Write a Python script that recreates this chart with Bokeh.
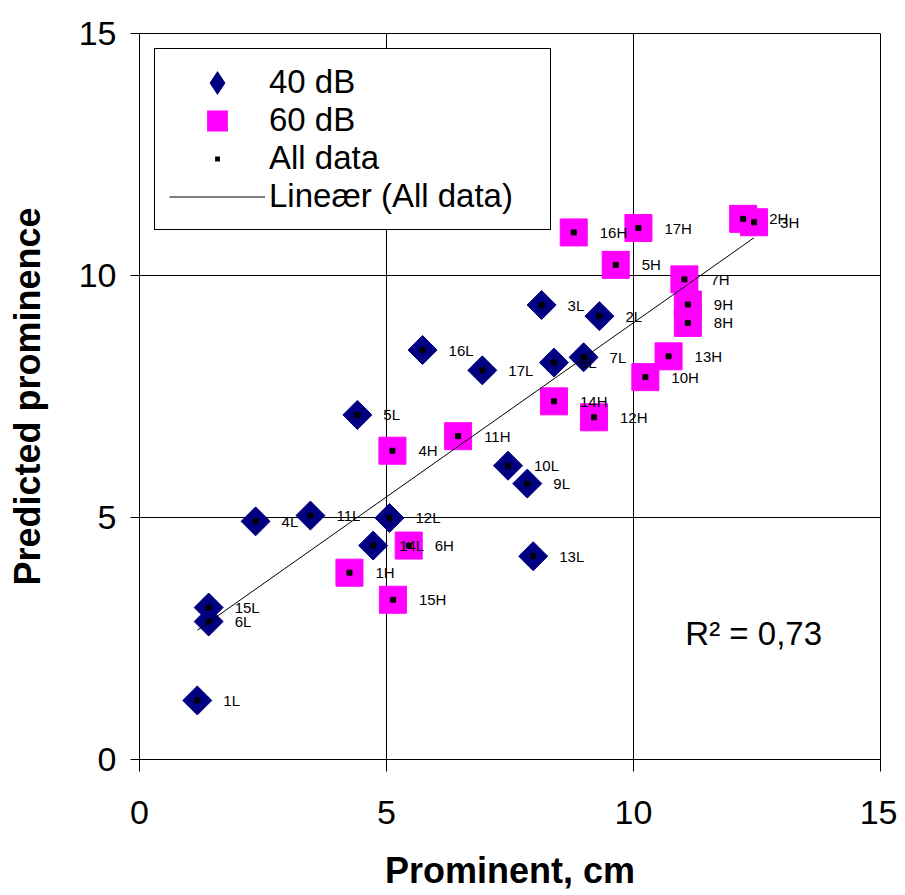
import numpy as np
from bokeh.plotting import figure
from bokeh.models import (ColumnDataSource, Legend, LegendItem, Label,
                          FixedTicker, Range1d)
from bokeh.core.properties import value
from bokeh.embed import file_html
from bokeh.resources import INLINE

# ---- data ----
labels_40 = ["1L", "2L", "3L", "4L", "5L", "6L", "7L", "8L", "9L", "10L",
             "11L", "12L", "13L", "14L", "15L", "16L", "17L"]
x_40 = [1.17, 9.31, 8.14, 2.35, 4.41, 1.40, 8.99, 8.39, 7.85, 7.46,
        3.46, 5.06, 7.97, 4.73, 1.40, 5.73, 6.94]
y_40 = [1.22, 9.16, 9.39, 4.92, 7.12, 2.85, 8.31, 8.20, 5.70, 6.07,
        5.04, 4.99, 4.20, 4.42, 3.14, 8.46, 8.04]

labels_60 = ["1H", "2H", "3H", "4H", "5H", "6H", "7H", "8H", "9H", "10H",
             "11H", "12H", "13H", "14H", "15H", "16H", "17H"]
x_60 = [4.25, 12.22, 12.44, 5.12, 9.64, 5.45, 11.03, 11.10, 11.10, 10.24,
        6.45, 9.20, 10.71, 8.39, 5.13, 8.79, 10.10]
y_60 = [3.86, 11.17, 11.10, 6.38, 10.22, 4.42, 9.92, 9.02, 9.40, 7.90,
        6.68, 7.07, 8.33, 7.40, 3.30, 10.89, 10.98]

x_ticks = [0, 5, 10, 15]
y_ticks = [0, 5, 10, 15]
r2_text = "R\u00b2 = 0,73"

x_all = x_40 + x_60
y_all = y_40 + y_60
labels_all = labels_40 + labels_60

# linear trend of all data
slope, intercept = np.polyfit(x_all, y_all, 1)
trend_x = [min(x_all), max(x_all)]
trend_y = [slope * v + intercept for v in trend_x]

FONT = "Liberation Sans"

p = figure(width=897, height=895, x_range=Range1d(0, 15), y_range=Range1d(0, 15),
           output_backend="svg", toolbar_location=None,
           min_border_left=139, min_border_right=17,
           min_border_top=33, min_border_bottom=136)

p.background_fill_color = "white"
p.border_fill_color = "white"
p.outline_line_color = "black"
p.outline_line_width = 1
p.outline_line_alpha = 1

p.xaxis.ticker = FixedTicker(ticks=x_ticks)
p.yaxis.ticker = FixedTicker(ticks=y_ticks)
p.xgrid.ticker = FixedTicker(ticks=x_ticks)
p.ygrid.ticker = FixedTicker(ticks=y_ticks)
for g in (p.xgrid, p.ygrid):
    g.grid_line_color = "black"
    g.grid_line_width = 1
    g.grid_line_alpha = 1

for ax in (p.xaxis, p.yaxis):
    ax.axis_line_color = "black"
    ax.major_tick_line_color = "black"
    ax.minor_tick_line_color = None
    ax.major_tick_in = 0
    ax.major_label_text_font = FONT
    ax.major_label_text_font_size = "34px"
    ax.major_label_text_color = "black"
    ax.axis_label_text_font = FONT
    ax.axis_label_text_font_size = "36px"
    ax.axis_label_text_font_style = "bold"
    ax.axis_label_text_color = "black"

p.xaxis.major_tick_out = 12
p.yaxis.major_tick_out = 9
p.xaxis.major_label_standoff = 29
p.yaxis.major_label_standoff = 14
p.xaxis.axis_label = "Prominent, cm"
p.yaxis.axis_label = "Predicted prominence"
p.xaxis.axis_label_standoff = 23
p.yaxis.axis_label_standoff = 28

src40 = ColumnDataSource(dict(x=x_40, y=y_40))
src60 = ColumnDataSource(dict(x=x_60, y=y_60))
srcall = ColumnDataSource(dict(x=x_all, y=y_all, label=labels_all))

r40 = p.scatter("x", "y", source=src40, marker="square", size=20.5, angle=np.pi / 4,
                fill_color="#000080", line_color="#000080")
r60 = p.scatter("x", "y", source=src60, marker="square", size=27,
                fill_color="#FF00FF", line_color="#FF00FF")
rtrend = p.line(trend_x, trend_y, line_color="black", line_width=1)
rall = p.scatter("x", "y", source=srcall, marker="square", size=5,
                 fill_color="black", line_color="black")
p.text("x", "y", text="label", source=srcall, x_offset=26,
       text_font=value(FONT), text_font_size=value("15px"),
       text_baseline="middle", text_align="left", text_color="black")

# legend-only proxies (no visible points)
nan = [float("nan")]
leg40 = p.scatter(nan, nan, marker="diamond", fill_color="#000080", line_color="#000080",
                  line_width=5, line_join="miter")
leg60 = p.scatter(nan, nan, marker="square", fill_color="#FF00FF", line_color="#FF00FF",
                  line_width=6, line_join="miter")
legall = p.scatter(nan, nan, marker="square", fill_color="black", line_color="white",
                   line_width=10, line_join="miter")

legend = Legend(items=[
    LegendItem(label="40 dB", renderers=[leg40]),
    LegendItem(label="60 dB", renderers=[leg60]),
    LegendItem(label="All data", renderers=[legall]),
    LegendItem(label="Line\u00e6r (All data)", renderers=[rtrend]),
], location="top_left")
legend.margin = 15
legend.padding = 14
legend.spacing = 0
legend.glyph_width = 96
legend.glyph_height = 37
legend.label_height = 37
legend.label_width = 267
legend.label_standoff = 4
legend.label_text_font = FONT
legend.label_text_font_size = "33px"
legend.label_text_color = "black"
legend.border_line_color = "black"
legend.border_line_width = 1
legend.border_line_alpha = 1
legend.background_fill_color = "white"
legend.background_fill_alpha = 1
p.add_layout(legend)

p.add_layout(Label(x=11.05, y=2.6, text=r2_text, text_font=FONT,
                   text_font_size="33px", text_baseline="middle",
                   text_align="left", text_color="black"))

open("out.html", "w").write(file_html(p, INLINE))
